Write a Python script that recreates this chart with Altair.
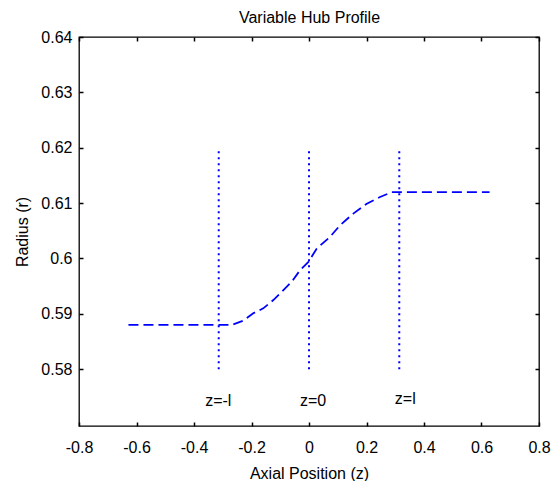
import altair as alt
import pandas as pd

# Hub profile curve
z_curve = [-0.628, -0.269, -0.228, -0.194, -0.159, -0.124, -0.089, -0.060, -0.031,
           -0.002, 0.027, 0.073, 0.108, 0.154, 0.201, 0.247, 0.288, 0.628]
r_curve = [0.588, 0.588, 0.5888, 0.5901, 0.5910, 0.5925, 0.5943, 0.5958, 0.5979,
           0.5994, 0.6018, 0.6039, 0.6060, 0.6081, 0.6099, 0.6111, 0.6120, 0.612]

# Vertical markers at z = -l, 0, l
z_marks = [-0.314, 0.0, 0.314]
r_mark_low = [0.58, 0.58, 0.58]
r_mark_high = [0.62, 0.62, 0.62]

# Marker labels
label_text = ["z=-l", "z=0", "z=l"]
label_z = [-0.3155, 0.014, 0.335]
label_r = [0.5733, 0.5733, 0.5737]

x_ticks = [-0.8, -0.6, -0.4, -0.2, 0, 0.2, 0.4, 0.6, 0.8]
y_ticks = [0.58, 0.59, 0.6, 0.61, 0.62, 0.63, 0.64]

FONT = "Liberation Sans, Arial, sans-serif"

curve_df = pd.DataFrame({"z": z_curve, "r": r_curve})
marks_df = pd.DataFrame({"z": z_marks, "r1": r_mark_low, "r2": r_mark_high})
labels_df = pd.DataFrame({"z": label_z, "r": label_r, "t": label_text})

xscale = alt.Scale(domain=[-0.8, 0.8], nice=False, zero=False)
yscale = alt.Scale(domain=[0.56975, 0.64], nice=False, zero=False)

lab = "'' + datum.value"

x_bottom = alt.Axis(orient="bottom", values=x_ticks, offset=-4, ticks=True, tickSize=4,
                    domain=False, labelFlush=False, grid=False, labelExpr=lab,
                    labelPadding=13, title="Axial Position (z)",
                    titleY=56, titleBaseline="alphabetic")
y_left = alt.Axis(orient="left", values=y_ticks, offset=-4, ticks=True, tickSize=4,
                  domain=False, labelFlush=False, grid=False, labelExpr=lab,
                  labelPadding=7, title="Radius (r)",
                  titleX=-56, titleBaseline="alphabetic")
x_top = alt.Axis(orient="top", values=x_ticks, offset=-4, ticks=True, tickSize=4,
                 domain=False, grid=False, labels=False, title="Variable Hub Profile",
                 titleY=-19, titleBaseline="alphabetic")
y_right = alt.Axis(orient="right", values=y_ticks, offset=-4, ticks=True, tickSize=4,
                   domain=False, grid=False, labels=False, title=None)

curve = alt.Chart(curve_df).mark_line(
    color="#0000FF", strokeWidth=1.8, strokeDash=[10, 5]
).encode(
    x=alt.X("z:Q", scale=xscale, axis=x_bottom),
    y=alt.Y("r:Q", scale=yscale, axis=y_left),
)

rules = alt.Chart(marks_df).mark_rule(
    color="#0000FF", strokeWidth=2, strokeDash=[2, 4]
).encode(
    x=alt.X("z:Q", scale=xscale, axis=x_top),
    y=alt.Y("r1:Q", scale=yscale, axis=y_right),
    y2="r2:Q",
)

texts = alt.Chart(labels_df).mark_text(
    font=FONT, fontSize=16, color="black", align="center", baseline="alphabetic"
).encode(
    x=alt.X("z:Q", scale=xscale, axis=None),
    y=alt.Y("r:Q", scale=yscale, axis=None),
    text="t:N",
)

chart = alt.layer(curve, rules, texts).resolve_axis(
    x="independent", y="independent"
).properties(
    width=460,
    height=389,
    padding={"left": 79, "top": 37, "right": 14, "bottom": 55},
    autosize=alt.AutoSizeParams(type="none"),
    background="white",
).configure_view(
    stroke="black", strokeWidth=1.3
).configure_axis(
    labelFont=FONT, labelFontSize=16, labelColor="black",
    titleFont=FONT, titleFontSize=16, titleFontWeight="normal", titleColor="black",
    tickColor="black", tickWidth=1.5,
)

chart.save("out.html", embed_options={"renderer": "svg", "actions": False})
